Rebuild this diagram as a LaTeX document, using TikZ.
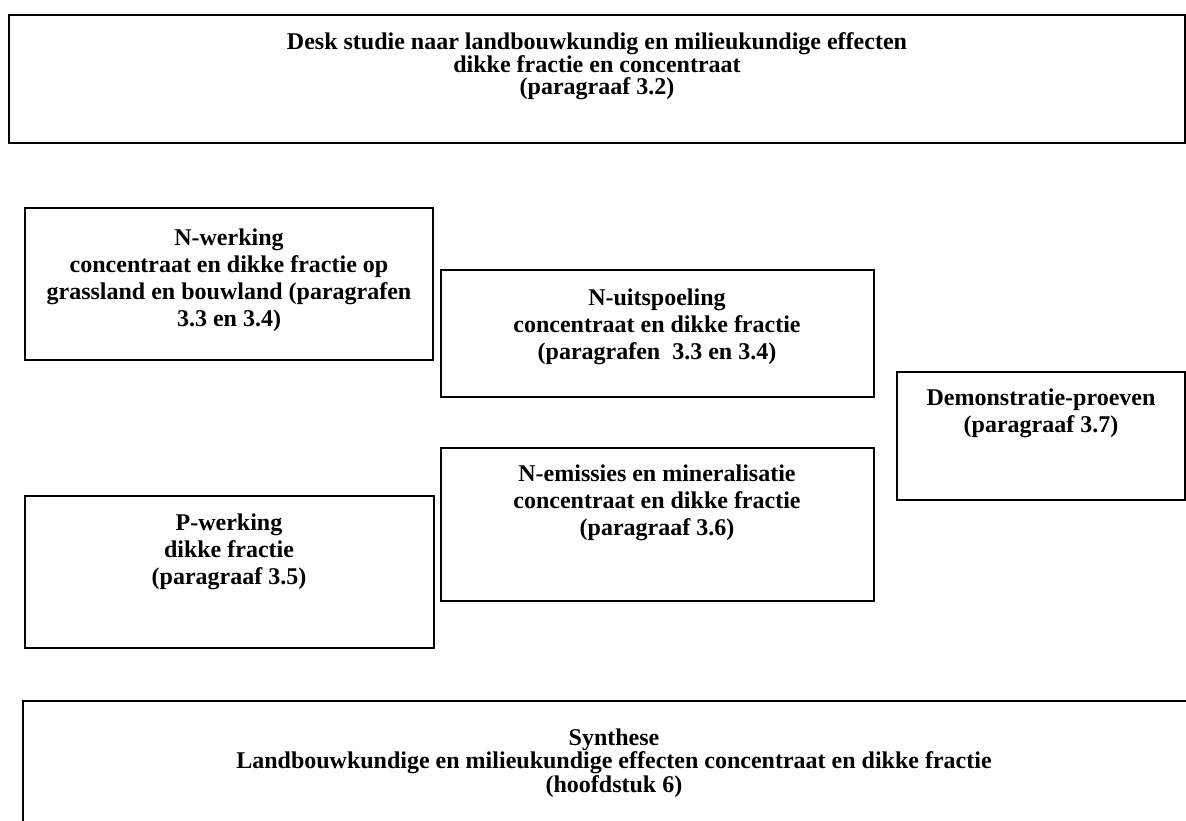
\documentclass[tikz,border=0pt]{standalone}
\usepackage{fontspec}
\setmainfont{Liberation Serif}
\begin{document}
\begin{tikzpicture}[x=1pt,y=-1pt,
  box/.style={draw=black, line width=1.5pt, fill=none, inner sep=0pt, outer sep=0pt,
              anchor=north west, rectangle},
  % multi-line labels: the base anchor sits on the last line's baseline
  lbl/.style={align=center, anchor=base, inner sep=0pt,
              font=\bfseries\fontsize{24}{27}\selectfont},
  lbltight/.style={lbl, font=\bfseries\fontsize{24}{22}\selectfont}]
  \useasboundingbox (0,0) rectangle (1186,821);
  \clip (0,0) rectangle (1186,821);

  % outer study boxes
  \node[box, minimum width=1176pt, minimum height=128pt] (desk) at (9,15) {};
  \node[box, minimum width=1182pt, minimum height=180pt] (synth) at (23,701) {};

  % work packages
  \node[box, minimum width=408pt, minimum height=152pt] (nwerk) at (25,208) {};
  \node[box, minimum width=433pt, minimum height=127pt] (nuit) at (441,270) {};
  \node[box, minimum width=433pt, minimum height=153pt] (nemis) at (441,448) {};
  \node[box, minimum width=409pt, minimum height=152pt] (pwerk) at (25,496) {};
  \node[box, minimum width=288pt, minimum height=128pt] (demo) at (897,372) {};

  % texts
  \node[lbltight] (deskT) at (597,95)
    {Desk studie naar landbouwkundig en milieukundige effecten\\
     dikke fractie en concentraat\\(paragraaf 3.2)};
  \node[lbl] (nwerkT) at (229,326)
    {N-werking\\concentraat en dikke fractie op\\
     grassland en bouwland (paragrafen\\3.3 en 3.4)};
  \node[lbl] (nuitT) at (657,359)
    {N-uitspoeling\\concentraat en dikke fractie\\(paragrafen\ \ 3.3 en 3.4)};
  \node[lbl] (nemisT) at (657,535)
    {N-emissies en mineralisatie\\concentraat en dikke fractie\\(paragraaf 3.6)};
  \node[lbl] (demoT) at (1041,432)
    {Demonstratie-proeven\\(paragraaf 3.7)};
  \node[lbl] (pwerkT) at (229,584)
    {P-werking\\dikke fractie\\(paragraaf 3.5)};
  \node[lbltight] (synthT) at (614,792)
    {Synthese\\Landbouwkundige en milieukundige effecten concentraat en dikke fractie\\
     (hoofdstuk 6)};
\end{tikzpicture}
\end{document}
